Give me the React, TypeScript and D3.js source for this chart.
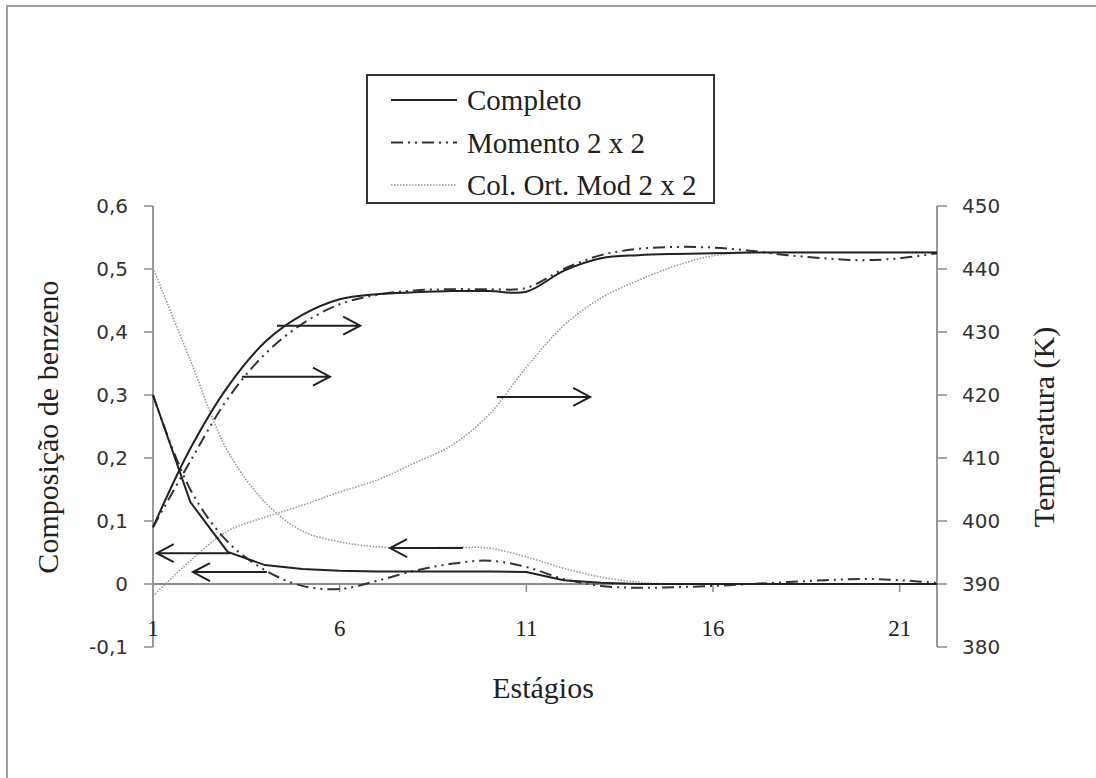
import * as d3 from "d3";

const stages = [1, 2, 3, 4, 5, 6, 7, 8, 9, 10, 11, 12, 13, 14, 15, 16, 17, 18, 19, 20, 21, 22];
const stageTicks = [1, 6, 11, 16, 21];
const compTicks = [-0.1, 0, 0.1, 0.2, 0.3, 0.4, 0.5, 0.6];
const compTickLabels = ["-0,1", "0", "0,1", "0,2", "0,3", "0,4", "0,5", "0,6"];
const tempTicks = [380, 390, 400, 410, 420, 430, 440, 450];

// composição de benzeno (eixo esquerdo)
const compCompleto = [0.3, 0.13, 0.051, 0.03, 0.024, 0.021, 0.02, 0.02, 0.02, 0.02, 0.019, 0.006, 0.002, 0, 0, 0, 0, 0, 0, 0, 0, 0];
const compMomento = [0.3, 0.15, 0.067, 0.022, -0.003, -0.008, 0.005, 0.021, 0.032, 0.037, 0.027, 0.008, -0.003, -0.006, -0.005, -0.003, 0, 0.003, 0.006, 0.008, 0.006, 0.002];
const compColOrt = [0.502, 0.355, 0.211, 0.13, 0.084, 0.067, 0.059, 0.057, 0.058, 0.057, 0.043, 0.025, 0.011, 0.003, 0, 0, 0, 0, 0, 0, 0, 0];

// temperatura (eixo direito)
const tempCompleto = [399.0, 411.5, 421.3, 428.4, 432.7, 435.2, 436.0, 436.3, 436.5, 436.5, 436.4, 439.7, 441.7, 442.2, 442.4, 442.5, 442.6, 442.6, 442.6, 442.6, 442.6, 442.6];
const tempMomento = [399.0, 409.5, 419.4, 426.5, 431.3, 434.4, 435.9, 436.6, 436.8, 436.8, 437.0, 440.0, 442.2, 443.2, 443.5, 443.4, 442.9, 442.2, 441.7, 441.4, 441.7, 442.5];
const tempColOrt = [388.1, 393.7, 398.4, 400.6, 402.5, 404.6, 406.5, 409.2, 412.0, 416.9, 424.4, 431.0, 435.4, 438.2, 440.5, 442.1, 442.6, 442.7, 442.7, 442.7, 442.7, 442.7];

const arrowsTemp = [
  { from: 4.32, to: 6.55, v: 431.0 },
  { from: 3.38, to: 5.74, v: 422.9 },
  { from: 10.21, to: 12.71, v: 419.7 },
];
const arrowsComp = [
  { from: 3.06, to: 1.1, v: 0.049 },
  { from: 4.05, to: 2.07, v: 0.019 },
  { from: 9.3, to: 7.35, v: 0.057 },
];

const legendItems = [
  { label: "Completo", dash: "none", color: "#222", width: 2 },
  { label: "Momento 2 x 2", dash: "12,5,2,5,2,5", color: "#333", width: 2 },
  { label: "Col. Ort. Mod 2 x 2", dash: "1.5,1.5", color: "#999", width: 1.6 },
];

const SERIF = "'Liberation Serif', 'Times New Roman', serif";
const SANS = "'DejaVu Sans', Verdana, sans-serif";
const AXIS = "#8c8c8c";

export default function App() {
  const x = d3.scaleLinear().domain([1, 22]).range([153, 937]);
  const yc = d3.scaleLinear().domain([-0.1, 0.6]).range([647, 206]);
  const yt = d3.scaleLinear().domain([380, 450]).range([647, 206]);

  const smoothC = d3.line<number>().x((_, i) => x(stages[i])).y((d) => yc(d)).curve(d3.curveCatmullRom.alpha(0.5));
  const linearC = d3.line<number>().x((_, i) => x(stages[i])).y((d) => yc(d));
  const smoothT = d3.line<number>().x((_, i) => x(stages[i])).y((d) => yt(d)).curve(d3.curveCatmullRom.alpha(0.5));

  const series = [
    { d: smoothT(tempColOrt), s: legendItems[2] },
    { d: smoothC(compColOrt), s: legendItems[2] },
    { d: smoothT(tempMomento), s: legendItems[1] },
    { d: smoothC(compMomento), s: legendItems[1] },
    { d: smoothT(tempCompleto), s: legendItems[0] },
    { d: linearC(compCompleto), s: legendItems[0] },
  ];

  const arrow = (x1: number, x2: number, y: number) => {
    const dir = x2 > x1 ? 1 : -1;
    return `M${x1},${y}L${x2},${y}M${x2 - dir * 17},${y - 9}L${x2},${y}L${x2 - dir * 17},${y + 9}`;
  };

  return (
    <div style={{ position: "absolute", left: 0, top: 0 }}>
      <svg width={1096} height={778} style={{ display: "block", background: "#fff" }}>
        <rect x={7} y={6} width={1200} height={900} fill="#fff" stroke="#a0a0a0" strokeWidth={2} />

        {/* axes */}
        <line x1={x(1)} x2={x(22)} y1={yc(0)} y2={yc(0)} stroke={AXIS} strokeWidth={1.8} />
        {stageTicks.slice(1).map((s) => (
          <line key={s} x1={x(s)} x2={x(s)} y1={yc(0)} y2={yc(0) + 8} stroke={AXIS} strokeWidth={1.5} />
        ))}
        <line x1={x(1)} x2={x(1)} y1={yc(0.6)} y2={yc(-0.1)} stroke={AXIS} strokeWidth={1.8} />
        {compTicks.map((t, i) => (
          <g key={t}>
            <line x1={x(1) - 9} x2={x(1)} y1={yc(t)} y2={yc(t)} stroke={AXIS} strokeWidth={1.5} />
            <text x={128} y={yc(t)} textAnchor="end" dominantBaseline="central" fontFamily={SANS} fontSize={20} fill="#333">
              {compTickLabels[i]}
            </text>
          </g>
        ))}
        <line x1={x(22)} x2={x(22)} y1={yt(450)} y2={yt(380)} stroke={AXIS} strokeWidth={1.8} />
        {tempTicks.map((t) => (
          <g key={t}>
            <line x1={x(22)} x2={x(22) + 10} y1={yt(t)} y2={yt(t)} stroke={AXIS} strokeWidth={1.5} />
            <text x={962} y={yt(t)} dominantBaseline="central" fontFamily={SANS} fontSize={20} fill="#333">
              {t}
            </text>
          </g>
        ))}
        {stageTicks.map((s) => (
          <text key={s} x={x(s)} y={628} textAnchor="middle" dominantBaseline="central" fontFamily={SERIF} fontSize={23} fill="#222">
            {s}
          </text>
        ))}

        {/* series */}
        {series.map((l, i) => (
          <path key={i} d={l.d ?? ""} fill="none" stroke={l.s.color} strokeWidth={l.s.width} strokeDasharray={l.s.dash} />
        ))}

        {/* arrows */}
        {arrowsTemp.map((a, i) => (
          <path key={"t" + i} d={arrow(x(a.from), x(a.to), yt(a.v))} fill="none" stroke="#222" strokeWidth={2} />
        ))}
        {arrowsComp.map((a, i) => (
          <path key={"c" + i} d={arrow(x(a.from), x(a.to), yc(a.v))} fill="none" stroke="#222" strokeWidth={2} />
        ))}

        {/* titles */}
        <text transform="translate(47,427) rotate(-90)" textAnchor="middle" dominantBaseline="central" fontFamily={SERIF} fontSize={30} fill="#222">
          Composição de benzeno
        </text>
        <text transform="translate(1043,427) rotate(-90)" textAnchor="middle" dominantBaseline="central" fontFamily={SERIF} fontSize={30} fill="#222">
          Temperatura (K)
        </text>
        <text x={543} y={687} textAnchor="middle" dominantBaseline="central" fontFamily={SERIF} fontSize={30} fill="#222">
          Estágios
        </text>

        {/* legend */}
        <rect x={367} y={75} width={347} height={128} fill="#fff" stroke="#333" strokeWidth={2} />
        {legendItems.map((it, i) => (
          <g key={it.label} transform={`translate(0,${100 + i * 42.5})`}>
            <line x1={391} x2={457} y1={0} y2={0} stroke={it.color} strokeWidth={it.width} strokeDasharray={it.dash} />
            <text x={467} y={0} dominantBaseline="central" fontFamily={SERIF} fontSize={29} fill="#222">
              {it.label}
            </text>
          </g>
        ))}
      </svg>
    </div>
  );
}
